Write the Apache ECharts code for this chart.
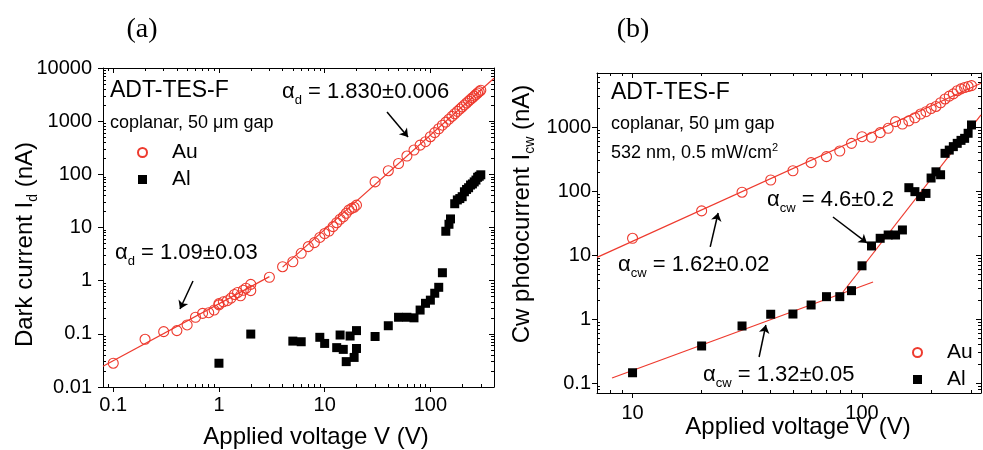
<!DOCTYPE html>
<html><head><meta charset="utf-8">
<script src="https://cdn.jsdelivr.net/npm/echarts@6/dist/echarts.min.js"></script>
<style>html,body{margin:0;padding:0;background:#fff}#c{width:983px;height:450px}</style>
</head><body><div id="c"></div><script>
// ---------------- Panel (a): dark current ----------------
const auV_a = [0.1,0.2,0.3,0.4,0.5,0.6,0.7,0.8,0.9,1.0,1.0,1.1,1.2,1.3,1.4,1.5,1.6,1.7,1.8,2.0,2.0,3,4,5,6,7,8,9,10,11,12,13,14,15,16,17,18,19,20,30,40,50,60,70,80,90,100,110,120,130,140,150,160,170,180,190,200,210,220,230,240,250,260,270,280,290,300];
const auI_a = [0.028,0.079,0.11,0.115,0.147,0.205,0.243,0.25,0.28,0.35,0.37,0.40,0.42,0.47,0.55,0.6,0.52,0.66,0.72,0.85,0.65,1.16,1.83,2.27,3.27,4.36,5.2,6.5,7.7,8.6,10.4,12.3,14.3,15.9,18.5,21.4,22.9,24,26.3,72,117,160,221,287,355,411,510,610,720,840,960,1090,1230,1380,1530,1690,1850,2020,2200,2380,2570,2760,2960,3170,3380,3600,3820];
const alV_a = [1,2,5,6,9,10,13,14,15,16,17.4,19,20,20,30,40,50,60,70,80,90,100,110,120,130,140,150,155,170,180,190,200,210,220,230,240,250,260,270,280,290,300];
const alI_a = [0.028,0.099,0.073,0.071,0.086,0.066,0.055,0.095,0.051,0.030,0.091,0.036,0.115,0.053,0.089,0.142,0.205,0.205,0.20,0.28,0.375,0.43,0.58,0.75,1.41,8.5,11.5,14.5,28,33,35,38,47,52,56,63,66,72,78,88,92,98];
const fitLoV_a = [0.08, 3.0],  fitLoI_a = [0.0245, 1.19];
const fitHiV_a = [4, 400],     fitHiI_a = [1.8, 6400];
const arrowHiV_a = [38.9, 61.5], arrowHiI_a = [1487, 504];
const arrowLoV_a = [0.568, 0.428], arrowLoI_a = [0.986, 0.293];
const xTicksA = [0.1, 1, 10, 100];
const yTicksA = [0.01, 0.1, 1, 10, 100, 1000, 10000];

// ---------------- Panel (b): cw photocurrent ----------------
const auV_b = [10,20,30,40,50,60,70,80,90,100,110,120,130,140,150,160,170,180,190,200,210,220,230,240,250,260,270,280,290,300];
const auI_b = [18.3,49,96,149,208,278,345,423,557,708,692,818,957,1216,1118,1250,1400,1600,1740,1950,2100,2400,2750,3050,3300,3700,3950,4150,4300,4450];
const alV_b = [10,20,30,40,50,60,70,80,90,100,110,120,130,140,150,160,170,180,190,200,210,220,230,240,250,260,270,280,290,300];
const alI_b = [0.145,0.38,0.78,1.19,1.2,1.66,2.24,2.24,2.78,6.8,13.9,18.3,20.6,20.6,24.7,113,98,82,92,160,200,180,389,437,495,557,620,667,800,1079];
const fitAuV_b = [7, 330],       fitAuI_b = [9.2, 4830];
const fitAlLoV_b = [8.14, 111.7], fitAlLoI_b = [0.12, 3.8];
const fitAlHiV_b = [82.6, 330],  fitAlHiI_b = [2.65, 1546];
const arrow46V_b = [74.7, 105.1], arrow46I_b = [39.4, 15.5];
const arrow162V_b = [21.8, 23.6], arrow162I_b = [13.4, 45.5];
const arrow132V_b = [35.6, 38.1], arrow132I_b = [0.2557, 0.808];
const xTicksB = [10, 100];
const yTicksB = [0.1, 1, 10, 100, 1000];

// ---------------- helpers ----------------
const SANS = '"Liberation Sans", Arial, Helvetica, sans-serif';
const SERIF = '"Liberation Serif", "Times New Roman", serif';
const RED = '#ee3a2e';
function fmt(v){ return String(+(+v).toPrecision(6)); }
function pairs(xs, ys){ return xs.map((x,i)=>[x, ys[i]]); }
function minorTicks(lo, hi){
  const out=[];
  for(let e=-3;e<=5;e++) for(let m=2;m<=9;m++){
    const v=+(m*Math.pow(10,e)).toPrecision(6);
    if(v>lo*1.0001 && v<hi*0.9999) out.push(v);
  }
  return out;
}
const subRich = {s:{fontSize:14, fontFamily:SANS, color:'#000', lineHeight:14, verticalAlign:'bottom'}};
function mkAxis(o){
  const a = {
    type:'log', logBase:10, gridIndex:o.grid, position:o.pos, min:o.min, max:o.max,
    axisLine:{show:o.line, onZero:false, lineStyle:{color:'#000', width:1}},
    axisTick:{show:true, inside:o.inside, length:o.len, customValues:o.ticks, lineStyle:{color:'#000', width:1}},
    minorTick:{show:false}, splitLine:{show:false}, minorSplitLine:{show:false},
    axisLabel: o.labels ? {show:true, customValues:o.ticks, formatter:fmt, fontSize:20, fontFamily:SANS, color:'#000', margin:o.margin} : {show:false},
    silent:true
  };
  if(o.name){
    a.name=o.name; a.nameLocation='middle'; a.nameGap=o.nameGap; a.nameMoveOverlap=false;
    if(o.rot!==undefined) a.nameRotate=o.rot;
    a.nameTextStyle={fontSize:24, fontFamily:SANS, color:'#000', lineHeight:30, padding:o.namePad||0, rich:subRich};
  }
  return a;
}
function axesSet(gMain, gMinor, min, max, ticks, isX, extra){
  const minors = minorTicks(min, max);
  const p1 = isX ? 'bottom' : 'left', p2 = isX ? 'top' : 'right';
  return [
    mkAxis(Object.assign({grid:gMain, pos:p1, min, max, ticks, line:true, inside:false, len:5, labels:true}, extra)),
    mkAxis({grid:gMain, pos:p2, min, max, ticks, line:true, inside:true, len:5, labels:false}),
    mkAxis({grid:gMinor, pos:p1, min, max, ticks:minors, line:false, inside:true, len:3, labels:false}),
    mkAxis({grid:gMinor, pos:p2, min, max, ticks:minors, line:false, inside:true, len:3, labels:false})
  ];
}
function arrowML(xs, ys){
  return {silent:true, animation:false, symbol:['none','arrow'], symbolSize:8,
    lineStyle:{color:'#000', width:1.5, type:'solid', opacity:1}, label:{show:false},
    emphasis:{disabled:true},
    data:[[{coord:[xs[0], ys[0]]},{coord:[xs[1], ys[1]]}]]};
}
function fitLine(xi, yi, xs, ys, ml){
  const s = {type:'line', xAxisIndex:xi, yAxisIndex:yi, data:pairs(xs, ys), showSymbol:false, symbol:'none',
    lineStyle:{color:RED, width:1.2}, itemStyle:{color:RED}, silent:true, z:2, clip:true};
  if(ml) s.markLine = ml;
  return s;
}
function auScatter(xi, yi, xs, ys){
  return {type:'scatter', name:'Au', xAxisIndex:xi, yAxisIndex:yi, data:pairs(xs, ys), symbol:'circle', symbolSize:10,
    itemStyle:{color:'rgba(255,255,255,0)', borderColor:RED, borderWidth:1.1, opacity:1}, z:3, silent:true};
}
function alScatter(xi, yi, xs, ys){
  return {type:'scatter', name:'Al', xAxisIndex:xi, yAxisIndex:yi, data:pairs(xs, ys), symbol:'rect', symbolSize:9,
    itemStyle:{color:'#000', opacity:1}, z:3, silent:true};
}
function txt(x, y, text, size, rich, family){
  return {type:'text', x, y, silent:true, z:10, style:{text, fill:'#000', fontSize:size, fontFamily:family||SANS,
    align:'left', verticalAlign:'middle', lineHeight:30, rich:rich||{}}};
}
const alphaRich = {
  t:{fontSize:22, fontFamily:SANS, color:'#000', lineHeight:30},
  s:{fontSize:13, fontFamily:SANS, color:'#000', lineHeight:13, verticalAlign:'bottom'}
};
const supRich = {
  t:{fontSize:18, fontFamily:SANS, color:'#000', lineHeight:22},
  p:{fontSize:11, fontFamily:SANS, color:'#000', lineHeight:11, verticalAlign:'top'}
};

const gridA = {left:103, top:68, width:391, height:319};
const gridB = {left:597, top:73, width:384, height:320};

const option = {
  animation:false,
  backgroundColor:'#fff',
  textStyle:{fontFamily:SANS},
  grid:[
    Object.assign({outerBoundsMode:'none'}, gridA), Object.assign({outerBoundsMode:'none'}, gridA),
    Object.assign({outerBoundsMode:'none'}, gridB), Object.assign({outerBoundsMode:'none'}, gridB)
  ],
  xAxis:[].concat(
    axesSet(0, 1, 0.08, 400, xTicksA, true, {margin:8, name:'Applied voltage V (V)', nameGap:35, namePad:[0,0,0,35]}),
    axesSet(2, 3, 7, 330, xTicksB, true, {margin:10, name:'Applied voltage V (V)', nameGap:19, namePad:[0,0,0,18]})
  ),
  yAxis:[].concat(
    axesSet(0, 1, 0.01, 10000, yTicksA, false, {margin:11, name:'Dark current I{s|d} (nA)', nameGap:63, rot:90, namePad:[0,34,0,0]}),
    axesSet(2, 3, 0.07, 7000, yTicksB, false, {margin:6, name:'Cw photocurrent I{s|cw} (nA)', nameGap:60, rot:90, namePad:[0,0,0,38]})
  ),
  legend:[
    {left:132, top:137, orient:'vertical', data:['Au','Al'], itemWidth:9, itemHeight:9, itemGap:6,
      itemStyle:{opacity:1}, textStyle:{fontSize:21, fontFamily:SANS, color:'#000', lineHeight:20, padding:[0,0,0,20]}, selectedMode:false},
    {left:907, top:337, orient:'vertical', data:['Au','Al'], itemWidth:9, itemHeight:9, itemGap:6,
      itemStyle:{opacity:1}, textStyle:{fontSize:21, fontFamily:SANS, color:'#000', lineHeight:20, padding:[0,0,0,20]}, selectedMode:false}
  ],
  series:[
    fitLine(0, 0, fitLoV_a, fitLoI_a, arrowML(arrowLoV_a, arrowLoI_a)),
    fitLine(0, 0, fitHiV_a, fitHiI_a, arrowML(arrowHiV_a, arrowHiI_a)),
    auScatter(0, 0, auV_a, auI_a),
    alScatter(0, 0, alV_a, alI_a),
    fitLine(4, 4, fitAuV_b, fitAuI_b, arrowML(arrow162V_b, arrow162I_b)),
    fitLine(4, 4, fitAlLoV_b, fitAlLoI_b, arrowML(arrow132V_b, arrow132I_b)),
    fitLine(4, 4, fitAlHiV_b, fitAlHiI_b, arrowML(arrow46V_b, arrow46I_b)),
    auScatter(4, 4, auV_b, auI_b),
    alScatter(4, 4, alV_b, alI_b)
  ],
  graphic:[
    {type:'text', x:142, y:30, silent:true, style:{text:'(a)', fill:'#000', fontSize:28, fontFamily:SERIF, align:'center', verticalAlign:'middle'}},
    {type:'text', x:633, y:30, silent:true, style:{text:'(b)', fill:'#000', fontSize:28, fontFamily:SERIF, align:'center', verticalAlign:'middle'}},
    txt(110, 91, 'ADT-TES-F', 23),
    txt(110, 123, 'coplanar, 50 μm gap', 18),
    txt(282, 92, '{t|α}{s|d}{t| = 1.830±0.006}', 22, alphaRich),
    txt(115, 253, '{t|α}{s|d}{t| = 1.09±0.03}', 22, alphaRich),
    txt(611, 93, 'ADT-TES-F', 23),
    txt(611, 124, 'coplanar, 50 μm gap', 18),
    txt(611, 153, '{t|532 nm, 0.5 mW/cm}{p|2}', 18, supRich),
    txt(767, 200, '{t|α}{s|cw}{t| = 4.6±0.2}', 22, alphaRich),
    txt(618, 265, '{t|α}{s|cw}{t| = 1.62±0.02}', 22, alphaRich),
    txt(703, 375, '{t|α}{s|cw}{t| = 1.32±0.05}', 22, alphaRich)
  ]
};
const chart = echarts.init(document.getElementById('c'), null, {renderer:'canvas'});
chart.setOption(option);
</script></body></html>
